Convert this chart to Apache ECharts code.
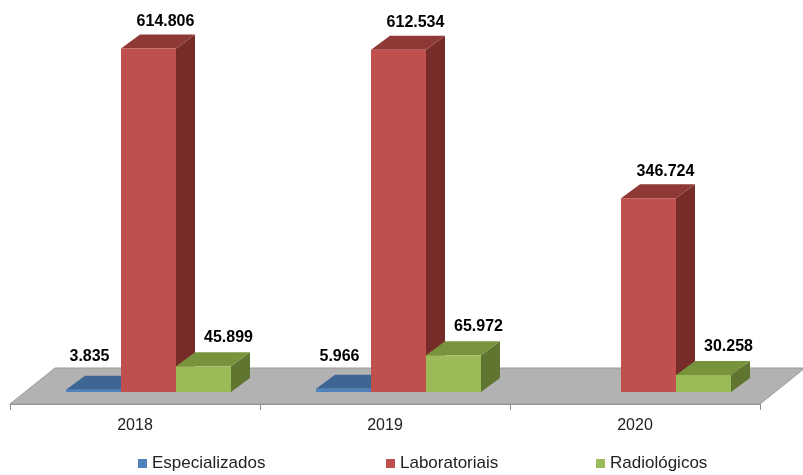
<!DOCTYPE html>
<html>
<head>
<meta charset="utf-8">
<script src="https://cdn.jsdelivr.net/npm/echarts@6/dist/echarts.min.js"></script>
<style>
  html, body { margin: 0; padding: 0; background: #fff; }
  #chart { width: 803px; height: 475px; }
</style>
</head>
<body>
<div id="chart"></div>
<script>
// exames realizados por ano
const years = ['2018', '2019', '2020'];
const especializados = [3835, 5966, null];
const laboratoriais = [614806, 612534, 346724];
const radiologicos = [45899, 65972, 30258];
const seriesNames = ['Especializados', 'Laboratoriais', 'Radiológicos'];

// face colours: front, top, side
const faceColors = [
    ['#4f81bd', '#3d6695', '#385d8a'],
    ['#c0504d', '#8e3936', '#772c2a'],
    ['#9bbb59', '#77933c', '#5f7530']
];
// where Excel put the data labels, relative to the bar front
const labelDx = [-4, 17, 25];
const labelDy = [13, 13, 15];

const FONT = '"Liberation Sans", Arial, sans-serif';

function fmt(v) {
    return String(v).replace(/\B(?=(\d{3})+(?!\d))/g, '.');
}

// geometry of one 3d bar in pixels
function barBox(serieIdx, api) {
    const v = api.value(1);
    if (v == null || isNaN(v)) return null;
    const idx = api.value(0);
    const bw = api.size([1, 0])[0];
    const p0 = api.coord([idx, 0]);
    const p1 = api.coord([idx, v]);
    const h = p0[1] - p1[1];
    const barW = bw * 0.22;
    const baseY = p0[1] - 12;
    const x0 = p0[0] - bw * 0.276 + serieIdx * barW;
    return { v: v, k: bw / 250, x0: x0, x1: x0 + barW, w: barW, baseY: baseY, yTop: baseY - h, h: h,
             dx: bw * 0.076, dy: 14 };
}

function barRenderer(serieIdx) {
    return function(params, api) {
        const b = barBox(serieIdx, api);
        if (!b) return;
        const c = faceColors[serieIdx];
        return {
            type: 'group',
            children: [
                { type: 'polygon', shape: { points: [[b.x1, b.baseY], [b.x1 + b.dx, b.baseY - b.dy], [b.x1 + b.dx, b.yTop - b.dy], [b.x1, b.yTop]] },
                  style: { fill: c[2] } },
                { type: 'polygon', shape: { points: [[b.x0, b.yTop], [b.x0 + b.dx, b.yTop - b.dy], [b.x1 + b.dx, b.yTop - b.dy], [b.x1, b.yTop]] },
                  style: { fill: c[1] } },
                { type: 'rect', shape: { x: b.x0, y: b.yTop, width: b.w, height: b.h },
                  style: { fill: c[0] } }
            ]
        };
    };
}

function labelRenderer(serieIdx) {
    return function(params, api) {
        const b = barBox(serieIdx, api);
        if (!b) return;
        const y = Math.min(b.yTop - b.dy - labelDy[serieIdx], b.baseY - 35);
        return {
            type: 'text',
            style: { text: fmt(b.v), x: (b.x0 + b.x1) / 2 + labelDx[serieIdx] * b.k, y: y,
                     align: 'center', verticalAlign: 'middle', fill: '#000',
                     font: 'bold 16px ' + FONT }
        };
    };
}

function floorRenderer(params, api) {
    const cs = params.coordSys;
    const yf = cs.y + cs.height;
    const xl = cs.x, xr = cs.x + cs.width;
    return {
        type: 'polygon',
        shape: { points: [[xl, yf], [xl + 45, yf - 36], [xr + 45, yf - 36], [xr, yf]] },
        style: { fill: '#b2b2b2', stroke: '#9a9a9a', lineWidth: 1 }
    };
}

const seriesData = [especializados, laboratoriais, radiologicos];
const legendLeft = [138, 386, 596];

const chart = echarts.init(document.getElementById('chart'));
chart.setOption({
    animation: false,
    grid: { left: 10, right: 43, top: 13, bottom: 71 },
    xAxis: {
        type: 'category',
        data: years,
        axisLine: { show: true, lineStyle: { color: '#8c8c8c' } },
        axisTick: { show: true, length: 6, lineStyle: { color: '#8c8c8c' } },
        axisLabel: { margin: 14, fontSize: 16, color: '#222', fontFamily: FONT }
    },
    yAxis: { type: 'value', min: 0, max: 700000, show: false, splitLine: { show: false } },
    legend: seriesNames.map((n, i) => ({
        data: [n], left: legendLeft[i], top: 455, icon: 'rect',
        itemWidth: 9, itemHeight: 9, itemGap: 0, padding: 0,
        textStyle: { fontSize: 17, color: '#222', fontFamily: FONT }
    })),
    series: [{
        type: 'custom', name: 'floor', z: 1, silent: true,
        renderItem: floorRenderer, data: [[0, 0]], encode: { x: 0, y: 1 }
    }].concat(seriesNames.map((n, i) => ({
        type: 'custom', name: n, z: 2 + i,
        itemStyle: { color: faceColors[i][0] },
        renderItem: barRenderer(i),
        data: seriesData[i].map((v, k) => [k, v]),
        encode: { x: 0, y: 1 }
    }))).concat(seriesNames.map((n, i) => ({
        type: 'custom', name: n, z: 10, silent: true,
        itemStyle: { color: faceColors[i][0] },
        renderItem: labelRenderer(i),
        data: seriesData[i].map((v, k) => [k, v]),
        encode: { x: 0, y: 1 }
    })))
});
</script>
</body>
</html>
